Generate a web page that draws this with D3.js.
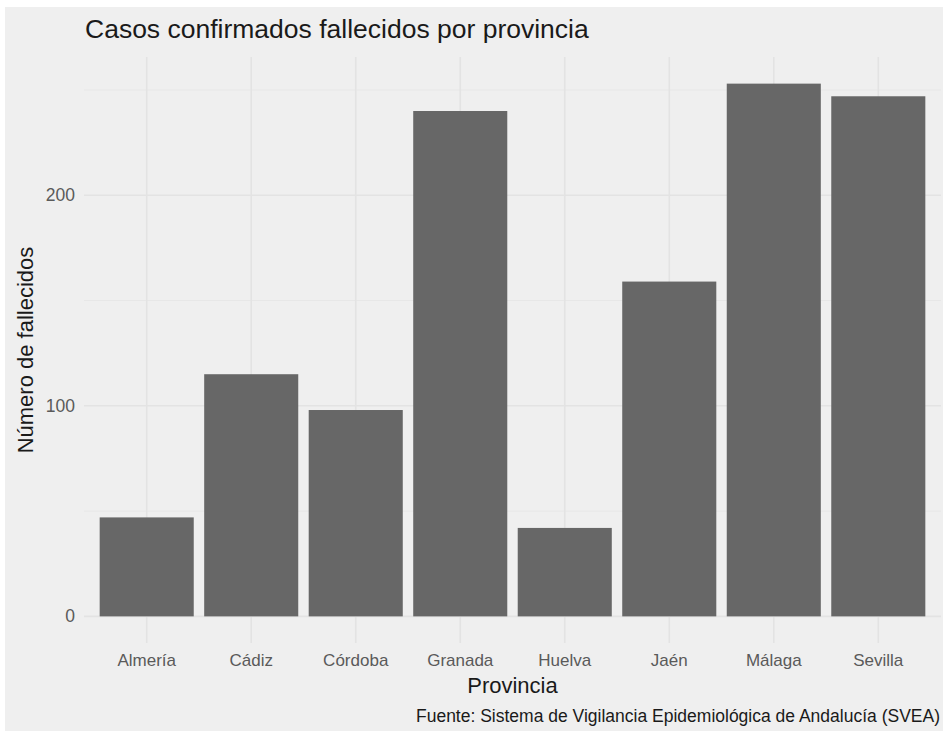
<!DOCTYPE html>
<html><head><meta charset="utf-8">
<script src="https://cdn.jsdelivr.net/npm/d3@7"></script>
<style>html,body{margin:0;padding:0;background:#fff;}</style>
</head><body>
<script>
const categories = ["Almería","Cádiz","Córdoba","Granada","Huelva","Jaén","Málaga","Sevilla"];
const values = [47, 115, 98, 240, 42, 159, 253, 247];
const majorTicks = [0, 100, 200];
const minorTicks = [50, 150, 250];
const titleText = "Casos confirmados fallecidos por provincia";
const yTitle = "Número de fallecidos";
const xTitle = "Provincia";
const caption = "Fuente: Sistema de Vigilancia Epidemiológica de Andalucía (SVEA)";

const W = 943, H = 731;
const FONT = "'Liberation Sans', Arial, sans-serif";
const svg = d3.select("body").append("svg").attr("width", W).attr("height", H)
  .style("font-family", FONT);
svg.append("rect").attr("x", 0).attr("y", 0).attr("width", W).attr("height", H).attr("fill", "#fff");
svg.append("rect").attr("x", 5).attr("y", 7).attr("width", W - 5).attr("height", H - 7).attr("fill", "#efefef");

const panel = {left: 84, right: 941, top: 57, bottom: 643};
const maxV = d3.max(values);
const pad = maxV * 0.05;
const y = d3.scaleLinear().domain([-pad, maxV + pad]).range([panel.bottom, panel.top]);
const x = d3.scaleBand().domain(categories).range([panel.left, panel.right]).paddingInner(0.1).paddingOuter(0.15);

const g = svg.append("g");
g.selectAll(".minor").data(minorTicks).enter().append("line")
  .attr("x1", panel.left).attr("x2", panel.right)
  .attr("y1", d => y(d)).attr("y2", d => y(d))
  .attr("stroke", "#e7e7e7").attr("stroke-width", 1);
g.selectAll(".major").data(majorTicks).enter().append("line")
  .attr("x1", panel.left).attr("x2", panel.right)
  .attr("y1", d => y(d)).attr("y2", d => y(d))
  .attr("stroke", "#e3e3e3").attr("stroke-width", 1.6);
g.selectAll(".vg").data(categories).enter().append("line")
  .attr("x1", d => x(d) + x.bandwidth() / 2).attr("x2", d => x(d) + x.bandwidth() / 2)
  .attr("y1", panel.top).attr("y2", panel.bottom)
  .attr("stroke", "#e3e3e3").attr("stroke-width", 1.6);

g.selectAll(".bar").data(values).enter().append("rect")
  .attr("x", (d, i) => x(categories[i]))
  .attr("width", x.bandwidth())
  .attr("y", d => y(d))
  .attr("height", d => y(0) - y(d))
  .attr("fill", "#676767");

const yAxis = d3.axisLeft(y).tickValues(majorTicks).tickSize(0).tickPadding(9);
const ya = svg.append("g").attr("transform", `translate(${panel.left},0)`).call(yAxis);
ya.select(".domain").remove();
ya.selectAll("text").attr("fill", "#5a5a5a").style("font-size", "17.5px").style("font-family", FONT);

const xAxis = d3.axisBottom(x).tickSize(0).tickPadding(11);
const xa = svg.append("g").attr("transform", `translate(0,${panel.bottom})`).call(xAxis);
xa.select(".domain").remove();
xa.selectAll("text").attr("fill", "#5a5a5a").style("font-size", "17px").style("font-family", FONT);

svg.append("text").attr("x", panel.left + 1).attr("y", 38).text(titleText)
  .attr("fill", "#1a1a1a").style("font-size", "26.5px");
svg.append("text").attr("transform", `translate(33,${(panel.top + panel.bottom) / 2}) rotate(-90)`)
  .attr("text-anchor", "middle").text(yTitle).attr("fill", "#1a1a1a").style("font-size", "22px");
svg.append("text").attr("x", (panel.left + panel.right) / 2).attr("y", 693)
  .attr("text-anchor", "middle").text(xTitle).attr("fill", "#1a1a1a").style("font-size", "22px");
svg.append("text").attr("x", 940).attr("y", 722).attr("text-anchor", "end")
  .text(caption).attr("fill", "#1a1a1a").style("font-size", "17.5px");
</script>
</body></html>
